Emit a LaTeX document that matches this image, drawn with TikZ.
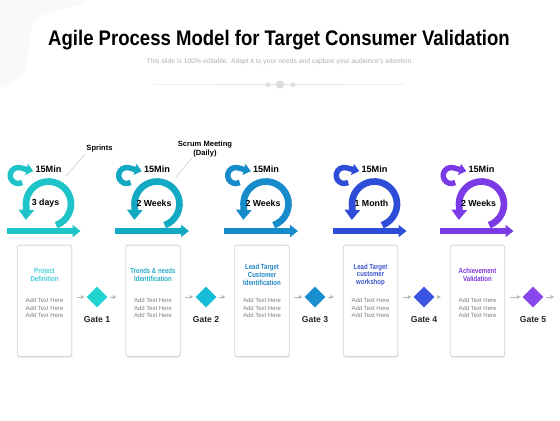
\documentclass[tikz,border=0pt]{standalone}
\usepackage{fontspec}
\setmainfont{Liberation Sans}
\usetikzlibrary{calc,shadows,arrows.meta,shapes.geometric}

\definecolor{inkA}{HTML}{1FC4C8}
\definecolor{inkB}{HTML}{14A9C3}
\definecolor{inkC}{HTML}{178CCB}
\definecolor{inkD}{HTML}{2D4DD8}
\definecolor{inkE}{HTML}{7A3BE6}
\definecolor{gemA}{HTML}{22D4D0}
\definecolor{gemB}{HTML}{16BCD8}
\definecolor{gemC}{HTML}{1A8FD0}
\definecolor{gemD}{HTML}{3A56E0}
\definecolor{gemE}{HTML}{8946EA}
\definecolor{toneA}{HTML}{45CDD6}
\definecolor{toneB}{HTML}{25ADC9}
\definecolor{toneC}{HTML}{1F86C4}
\definecolor{toneD}{HTML}{3E54C8}
\definecolor{toneE}{HTML}{7C35DC}
\definecolor{bodygray}{HTML}{7E7E7E}
\definecolor{leadgray}{HTML}{C8C8C8}

\tikzset{
  card/.style={draw=black!16, line width=0.5pt, fill=white, rounded corners=1.5pt,
    minimum width=1.09cm, minimum height=2.23cm,
    drop shadow={opacity=0.12, shadow xshift=0.4pt, shadow yshift=-0.9pt}},
  cardhead/.style={font=\fontsize{4.2}{4.5}\selectfont\bfseries, align=center, xscale=0.82, inner sep=0pt},
  cardbody/.style={font=\fontsize{3.4}{4.25}\selectfont, text=bodygray, align=center, inner sep=0pt},
  gate/.style={diamond, minimum width=0.42cm, minimum height=0.42cm, inner sep=0pt},
  gatelabel/.style={font=\fontsize{4.9}{6}\selectfont\bfseries, text=black!85},
  flow/.style={draw=black!28, line width=0.45pt, -{Latex[length=2.2pt,width=2.4pt]}},
  loopnote/.style={font=\fontsize{5.2}{6}\selectfont\bfseries, inner sep=0pt},
  callout/.style={font=\fontsize{4.3}{4.9}\selectfont\bfseries, align=center, inner sep=0.5pt},
  leader/.style={draw=leadgray, line width=0.3pt}
}

\begin{document}
\begin{tikzpicture}[x=0.02cm, y=-0.02cm]
\useasboundingbox (0,0) rectangle (560,420);
\fill[white] (0,0) rectangle (560,420);
% faint corner blob
\fill[black!2.5] (0,0) -- (88,0) .. controls (75,10) and (45,8) .. (34,22)
  .. controls (28,32) and (31,55) .. (24,70) .. controls (18,80) and (8,86) .. (0,88) -- cycle;

% heading
\node[anchor=base, font=\fontsize{12}{14}\selectfont\bfseries, xscale=0.88] (title) at (279,45.5)
  {Agile Process Model for Target Consumer Validation};
\node[font=\fontsize{3.85}{4.4}\selectfont, text=black!30] (subtitle) at (280,61.4)
  {This slide is 100\% editable. Adapt it to your needs and capture your audience's attention.};
\draw[black!6, line width=0.6pt] (154,84.6) -- (405,84.6);
\draw[black!12, line width=0.9pt] (214,84.6) -- (346,84.6);
\fill[black!12] (268,84.6) circle[radius=2.5] (293,84.6) circle[radius=2.5];
\fill[black!14] (280,84.6) circle[radius=4];

% columns
\foreach \i/\cx/\gx/\ink/\gem/\tone/\dur/\task in {
    1/44.5/97/inkA/gemA/toneA/3 days/{Project\\Definition},
    2/153/206/inkB/gemB/toneB/2 Weeks/{Trends \& needs\\Identification},
    3/262/315/inkC/gemC/toneC/2 Weeks/{Lead Target\\Customer\\Identification},
    4/370.5/424/inkD/gemD/toneD/1 Month/{Lead Target\\customer\\workshop},
    5/477.5/533/inkE/gemE/toneE/2 Weeks/{Achievement\\Validation}} {
  % scrum loop
  \draw[draw=\ink, line width=3.1pt, -{Triangle[length=0.16cm,width=0.24cm]}] (\cx-38,231) -- (\cx+36,231);
  \draw[draw=\ink, line width=3.1pt, -{Triangle[length=0.14cm,width=0.22cm]}]
    ($(\cx-26.3,175.5)+(60:8)$) arc[start angle=60, end angle=285, radius=8] -- ++(13,3.4);
  \draw[draw=\ink, line width=3.8pt, -{Triangle[length=0.2cm,width=0.3cm]}]
    ($(\cx+4,204)+(70:22.5)$) arc[start angle=70, end angle=-190, radius=22.5] -- ++(-0.5,12);
  \node[loopnote] (min\i) at (\cx+4,169) {15Min};
  \node[loopnote, font=\fontsize{5}{6}\selectfont\bfseries] (dur\i) at (\cx+1,203) {\dur};
  % card
  \node[card] (card\i) at (\cx,300.8) {};
  \node[cardhead, text=\tone] (task\i) at (\cx,275) {\task};
  \node[cardbody] (body\i) at (\cx,308) {Add Text Here\\Add Text Here\\Add Text Here};
  \node[gate, fill=\gem] (gate\i) at (\gx,297) {};
  \node[gatelabel] (gname\i) at (\gx,320) {Gate \i};
}

% flow between cards and gates
\foreach \i [evaluate=\i as \j using int(\i+1)] in {1,...,4} {
  \draw[flow, shorten <=2.5pt, shorten >=0.85pt] (card\i.east |- gate\i.west) -- (gate\i.west);
  \draw[flow, shorten <=1.4pt, shorten >=4.9pt] (gate\i.east) -- (card\j.west |- gate\i.east);
}
\draw[flow, shorten <=2.5pt, shorten >=0.85pt] (card5.east |- gate5.west) -- (gate5.west);
\coordinate (rim) at (563,297);
\draw[flow, shorten <=1.4pt, shorten >=4.9pt] (gate5.east) -- (rim);

% callouts
\node[callout] (sprints) at (99.5,149) {Sprints};
\coordinate (sprintsTip) at (66,176);
\draw[leader] (sprints.south west) -- (sprintsTip);
\node[callout] (scrum) at (205,149) {Scrum Meeting\\(Daily)};
\coordinate (scrumTip) at (176,177);
\draw[leader] (scrum.south) ++(-13,0) -- (scrumTip);
\end{tikzpicture}
\end{document}
